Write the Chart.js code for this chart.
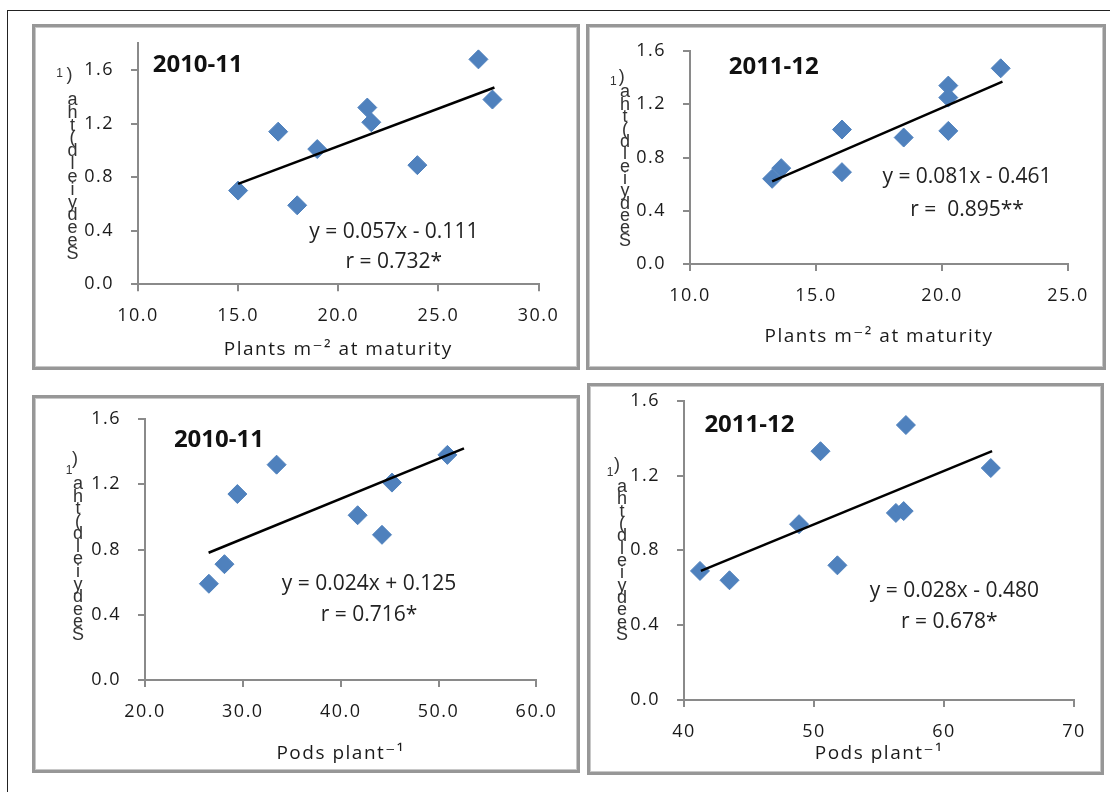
<!DOCTYPE html>
<html>
<head>
<meta charset="utf-8">
<script src="https://cdn.jsdelivr.net/npm/chart.js@4.4.1/dist/chart.umd.min.js"></script>
<style>
  html, body { margin: 0; padding: 0; background: #fff; width: 1110px; height: 792px; overflow: hidden; }
  .frame { position: absolute; left: 7px; top: 10px; width: 1200px; height: 900px; border: 1px solid #222; }
  .panel { position: absolute; box-sizing: border-box; border: 3px solid #979797; box-shadow: inset 0 0 0 1px #c8c8c8; background: #fff; }
  .panel canvas { position: absolute; left: 0; top: 0; }
</style>
</head>
<body>
<div class="frame"></div>
<div class="panel" style="left:32px;top:24px;width:548px;height:346px"><canvas id="c1" width="542" height="340"></canvas></div>
<div class="panel" style="left:586px;top:24px;width:520px;height:346px"><canvas id="c2" width="514" height="340"></canvas></div>
<div class="panel" style="left:32px;top:395px;width:548px;height:378px"><canvas id="c3" width="542" height="372"></canvas></div>
<div class="panel" style="left:587px;top:383px;width:517px;height:392px"><canvas id="c4" width="511" height="386"></canvas></div>

<script>
// Seed yield against plant density and pods per plant, two seasons
const seasons = ['2010-11', '2011-12'];
const yTitle = 'Seed yield (t ha-1)';
const densityTitle = 'Plants m\u207B\u00B2 at maturity';
const podsTitle = 'Pods plant\u207B\u00B9';

// plants m-2 at maturity, 2010-11
const densityA = [15.0, 17.0, 17.95, 18.95, 21.45, 21.65, 23.95, 27.0, 27.7];
const yieldDensityA = [0.70, 1.14, 0.59, 1.01, 1.32, 1.21, 0.89, 1.68, 1.38];
const trendDensityAX = [15.0, 27.8];
const trendDensityAY = [0.75, 1.47];
const eqDensityA = ['y = 0.057x - 0.111', 'r = 0.732*'];

// plants m-2 at maturity, 2011-12
const densityB = [13.26, 13.62, 16.03, 16.03, 18.48, 20.25, 20.25, 20.25, 22.33];
const yieldDensityB = [0.64, 0.72, 1.01, 0.69, 0.95, 1.34, 1.25, 1.00, 1.47];
const trendDensityBX = [13.26, 22.4];
const trendDensityBY = [0.62, 1.37];
const eqDensityB = ['y = 0.081x - 0.461', 'r =  0.895**'];

// pods per plant, 2010-11
const podsA = [26.53, 28.12, 29.44, 33.45, 41.73, 44.22, 45.24, 50.9];
const yieldPodsA = [0.59, 0.71, 1.14, 1.32, 1.01, 0.89, 1.21, 1.38];
const trendPodsAX = [26.5, 52.6];
const trendPodsAY = [0.78, 1.42];
const eqPodsA = ['y = 0.024x + 0.125', 'r = 0.716*'];

// pods per plant, 2011-12
const podsB = [41.23, 43.5, 48.85, 50.5, 51.8, 56.3, 56.9, 57.07, 63.6];
const yieldPodsB = [0.69, 0.64, 0.94, 1.33, 0.72, 1.00, 1.01, 1.47, 1.24];
const trendPodsBX = [41.3, 63.7];
const trendPodsBY = [0.69, 1.33];
const eqPodsB = ['y = 0.028x - 0.480', 'r = 0.678*'];

const FONT = '"Open Sans", "DejaVu Sans", sans-serif';
const BLUE = '#4f81bd';
const AXIS = '#8a8a8a';

// draws the year, the regression text and the stacked y title
const panelText = {
    id: 'panelText',
    beforeLayout(chart) { chart.ctx.letterSpacing = '1.5px'; },
    beforeDraw(chart) { chart.ctx.letterSpacing = '1.5px'; },
    afterDraw(chart, args, o) {
        const ctx = chart.ctx;
        ctx.save();
        ctx.letterSpacing = '0px';
        ctx.fillStyle = '#111';
        ctx.textBaseline = 'middle';

        ctx.font = 'bold 24px ' + FONT;
        ctx.textAlign = 'left';
        ctx.fillText(o.year, o.yearAt[0], o.yearAt[1]);

        ctx.fillStyle = '#222';
        ctx.font = '21px ' + FONT;
        ctx.textAlign = 'center';
        ctx.fillText(o.eq[0], o.eqAt[0], o.eqAt[1]);
        ctx.fillText(o.eq[1], o.rAt[0], o.rAt[1]);

        // the y title is stacked letter by letter, bottom to top
        const letters = yTitle.replace(/ /g, '').replace('-1)', '').split('');
        const step = (o.sY - o.aY) / (letters.length - 1);
        ctx.fillStyle = '#333';
        ctx.font = '18px "Liberation Sans", sans-serif';
        letters.forEach((ch, i) => {
            ctx.fillText(ch, o.colX, o.sY - i * step);
        });
        ctx.fillText(')', o.parenAt[0], o.parenAt[1]);
        ctx.font = '12px "Liberation Sans", sans-serif';
        ctx.fillText('1', o.oneAt[0], o.oneAt[1]);
        ctx.restore();
    }
};

function makePanel(id, p) {
    const ctx = document.getElementById(id).getContext('2d');
    const pts = p.xs.map((x, i) => ({ x: x, y: p.ys[i] }));
    const trend = p.tx.map((x, i) => ({ x: x, y: p.ty[i] }));
    const tickFont = { family: FONT, size: 18 };

    return new Chart(ctx, {
        type: 'scatter',
        data: {
            datasets: [{
                data: trend,
                showLine: true,
                borderColor: '#000',
                borderWidth: 2.5,
                pointRadius: 0
            }, {
                data: pts,
                pointStyle: 'rectRot',
                pointRadius: 9.5,
                backgroundColor: BLUE,
                borderColor: BLUE,
                borderWidth: 1
            }]
        },
        options: {
            responsive: false,
            animation: false,
            events: [],
            layout: { padding: { left: 0, right: p.padR, top: p.padT, bottom: 0 } },
            scales: {
                x: {
                    type: 'linear',
                    min: p.xRange[0],
                    max: p.xRange[1],
                    ticks: {
                        stepSize: p.xStep,
                        includeBounds: false,
                        maxRotation: 0,
                        autoSkip: false,
                        padding: 14,
                        color: '#1a1a1a',
                        font: tickFont,
                        callback: v => v.toFixed(p.xDec)
                    },
                    grid: { drawOnChartArea: false, tickLength: 7, color: AXIS, lineWidth: 2 },
                    border: { color: AXIS, width: 2 },
                    title: {
                        display: true,
                        text: p.xTitle,
                        color: '#1a1a1a',
                        font: { family: FONT, size: 19, lineHeight: 1.2 },
                        padding: { top: 0, bottom: p.titlePadB }
                    },
                    afterFit: s => { s.height = p.xh; s.paddingLeft = 0; s.paddingRight = 0; }
                },
                y: {
                    type: 'linear',
                    min: 0,
                    max: p.yMax,
                    ticks: {
                        stepSize: 0.4,
                        includeBounds: false,
                        padding: 17,
                        color: '#1a1a1a',
                        font: tickFont,
                        callback: v => v.toFixed(1)
                    },
                    grid: { drawOnChartArea: false, tickLength: 7, color: AXIS, lineWidth: 2 },
                    border: { color: AXIS, width: 2 },
                    afterFit: s => { s.width = p.yw; s.paddingTop = 0; s.paddingBottom = 0; }
                }
            },
            plugins: {
                legend: { display: false },
                tooltip: { enabled: false },
                panelText: p.text
            }
        },
        plugins: [panelText]
    });
}

makePanel('c1', {
    xs: densityA, ys: yieldDensityA, tx: trendDensityAX, ty: trendDensityAY,
    xRange: [10, 30], xStep: 5, xDec: 1, yMax: 1.8, xTitle: densityTitle,
    yw: 103, xh: 82.7, padR: 38.5, padT: 16.3, titlePadB: 5.6,
    text: {
        year: seasons[0], yearAt: [117.7, 38], eq: eqDensityA, eqAt: [358.8, 204.7], rAt: [358.8, 234.7],
        colX: 37.5, aY: 73, sY: 227, parenAt: [34.5, 48], oneAt: [24.5, 46.5]
    }
});

makePanel('c2', {
    xs: densityB, ys: yieldDensityB, tx: trendDensityBX, ty: trendDensityBY,
    xRange: [10, 25], xStep: 5, xDec: 1, yMax: 1.6, xTitle: densityTitle,
    yw: 101, xh: 103, padR: 35, padT: 24, titlePadB: 18.9,
    text: {
        year: seasons[1], yearAt: [139.7, 39.7], eq: eqDensityB, eqAt: [378, 149.7], rAt: [378, 183],
        colX: 36, aY: 65.5, sY: 213.7, parenAt: [32.7, 50.5], oneAt: [24.3, 54.7]
    }
});

makePanel('c3', {
    xs: podsA, ys: yieldPodsA, tx: trendPodsAX, ty: trendPodsAY,
    xRange: [20, 60], xStep: 10, xDec: 1, yMax: 1.6, xTitle: podsTitle,
    yw: 110, xh: 90, padR: 40.6, padT: 21, titlePadB: 5.3,
    text: {
        year: seasons[0], yearAt: [138.9, 42], eq: eqPodsA, eqAt: [334, 186], rAt: [334, 217],
        colX: 43, aY: 86, sY: 237, parenAt: [40, 61], oneAt: [34, 73]
    }
});

makePanel('c4', {
    xs: podsB, ys: yieldPodsB, tx: trendPodsBX, ty: trendPodsBY,
    xRange: [40, 70], xStep: 10, xDec: 0, yMax: 1.6, xTitle: podsTitle,
    yw: 94, xh: 72, padR: 27, padT: 14.7, titlePadB: 7.3,
    text: {
        year: seasons[1], yearAt: [114.4, 39], eq: eqPodsB, eqAt: [364.4, 204.7], rAt: [359.3, 235.7],
        colX: 32, aY: 101, sY: 249, parenAt: [27, 79], oneAt: [20, 87]
    }
});
</script>
</body>
</html>
